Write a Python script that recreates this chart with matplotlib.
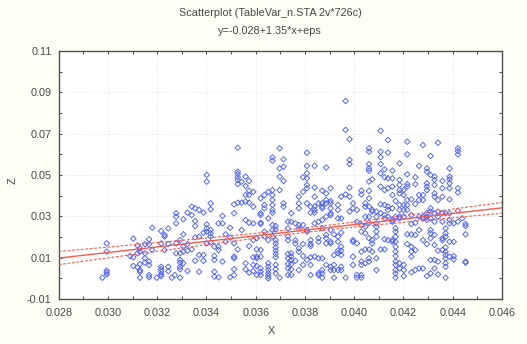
import numpy as np
import matplotlib
matplotlib.use("Agg")
import matplotlib.pyplot as plt

plt.rcParams['font.family'] = ['Liberation Sans', 'DejaVu Sans']

# points, grouped by x column
col_x = [
    0.02977, 0.02995, 0.0309, 0.03103, 0.0312, 0.0313, 0.0315, 0.03167, 0.0318, 0.03198,
    0.03216, 0.0323, 0.03245, 0.03259, 0.03272, 0.03277, 0.03293, 0.03306, 0.03323, 0.0334,
    0.03354, 0.0337, 0.03388, 0.03401, 0.03417, 0.03432, 0.03449, 0.03465, 0.03478, 0.03496,
    0.03512, 0.03527, 0.03543, 0.03559, 0.03573, 0.0359, 0.03604, 0.0362, 0.03635, 0.03651,
    0.03668, 0.03681, 0.03697, 0.03713, 0.03731, 0.03744, 0.03761, 0.03775, 0.03792, 0.03808,
    0.03823, 0.03839, 0.03855, 0.0387, 0.03886, 0.03904, 0.03918, 0.03934, 0.03947, 0.03965,
    0.03981, 0.03995, 0.04011, 0.04029, 0.04045, 0.0406, 0.04073, 0.0409, 0.04107, 0.04123,
    0.04137, 0.04155, 0.04168, 0.04184, 0.04201, 0.04215, 0.04232, 0.04248, 0.04263, 0.04279,
    0.04295, 0.0431, 0.04326, 0.0434, 0.04358, 0.04371, 0.04387, 0.04404, 0.04421, 0.04438,
    0.04452,
]
col_z = [
    [.0003], [.0169, .0129, .0037, .0029, .0019], [.0108], [.0192, .0102, .0060],
    [.0158, .0121, .0053], [.0145, .0129, .0069, .004, .0032, .0003], [.0165, .0121, .0097, .0076],
    [.0189, .0166, .0081, .0065, .0016, .0005], [.0245, .0137], [.0003],
    [.0229, .0169, .0056, .0044, .0032, .0019, .0011], [.0210, .0202, .0137],
    [.0242, .0166, .0056, .0035], [.0003], [.0016], [.0315, .0298, .0266, .0169, .0121],
    [.0185, .0121, .0089, .0076, .0056, .0044, .0003], [.0286, .0213, .0153, .0129, .0073],
    [.0318, .0166, .0134, .0035], [.0347, .0306, .0140], [.0339, .0277, .0253, .0198, .0085],
    [.0331, .0202, .0113, .0032], [.0318, .0221, .0113, .0085],
    [.0500, .0468, .0261, .0242, .0226, .0169], [.0363, .0334, .0234, .0218, .0202, .0173],
    [.0153, .0108, .0089, .0032, .0008], [.0266, .0153, .0137, .0005], [.0302, .0266, .0081],
    [.0213, .0177], [.0245, .0197, .0005], [.0358, .0315, .0169, .0105, .0097, .0044, .0016],
    [.0632, .0516, .0505, .0489, .0476, .0456, .0366, .0140], [.0468, .0366, .0234],
    [.0492, .0447, .0403, .0371, .0282, .0073, .0044],
    [.0471, .0424, .0403, .0366, .0269, .0156, .0027],
    [.0419, .0347, .0266, .0185, .0102, .0065, .0035], [.0194, .0140, .0105, .0097, .0060, .0016],
    [.0387, .0315, .0306, .0269, .0263, .0137, .0105, .0048, .0032, .0016],
    [.0403, .0355, .0339, .0226, .0202],
    [.0419, .0290, .0185, .0073, .0056, .0040, .0024, .0011, .0000],
    [.0585, .0569, .0427, .0403, .0379, .0355, .0331, .0318, .0258, .0234, .0202],
    [.0253, .0237, .0185, .0169, .0150, .0134, .0118, .0102, .0065, .0044, .0024],
    [.0629, .0532, .0492, .0427, .0003], [.0576, .0540, .0471, .0363, .0347],
    [.0274, .0242, .0202, .0185, .0118, .0097, .0069, .0048, .0016],
    [.0315, .0274, .0121, .0105, .0089, .0069, .0044, .0016], [.0266, .0185, .0169, .0085],
    [.0395, .0363, .0339, .0258, .0242, .0145, .0129, .0040],
    [.0489, .0419, .0258, .0166, .0108, .0065],
    [.0608, .0544, .0508, .0484, .0452, .0436, .0363, .0234, .0226, .0089],
    [.0347, .0318, .0185, .0166, .0156, .0102, .0065, .0016],
    [.0544, .0439, .0395, .0347, .0331, .0318, .0266, .0105],
    [.0363, .0274, .0194, .0177, .0097, .0024, .0016],
    [.0424, .0363, .0347, .0339, .0282, .0242, .0097, .0040, .0024, .0003],
    [.0536, .0411, .0379, .0363, .0298, .0210, .0194, .0169, .0065],
    [.0436, .0374, .0363, .0339, .0315, .0306, .0234, .0177, .0169, .0056, .0040],
    [.0213, .0113, .0065, .0040, .0003],
    [.0355, .0331, .0290, .0202, .0177, .0134, .0121, .0040],
    [.0395, .0290, .0221, .0153, .0134, .0113, .0040, .0056], [.0858, .0718, .0406, .0003],
    [.0673, .0573, .0553, .0439, .0395, .0323], [.0363, .0339, .0185, .0177, .0105, .0065],
    [.0331, .0274, .0169, .0016, .0003],
    [.0424, .0406, .0258, .0226, .0129, .0081, .0065, .0016, .0003],
    [.0363, .0347, .0298, .0250, .0218, .0140, .0073],
    [.0629, .0613, .0553, .0532, .0521, .0468, .0423, .0387, .0347, .0298, .0269, .0194, .0140, .0097, .0081],
    [.0479, .0331, .0323, .0185, .0169, .0129],
    [.0323, .0298, .0266, .0250, .0226, .0202, .0097, .0040],
    [.0714, .0613, .0586, .0553, .0508, .0444, .0358, .0315, .0140],
    [.0527, .0489, .0427, .0355, .0306, .0290, .0189, .0140],
    [.0669, .0608, .0484, .0436, .0347, .0331, .0298, .0185],
    [.0521, .0484, .0444, .0403, .0339, .0282, .0274, .0185, .0177],
    [.0374, .0298, .0242, .0226, .0202, .0177, .0153, .0129, .0108, .0081, .0065, .0040, .0024, .0003],
    [.0556, .0476, .0452, .0427, .0411, .0355, .0331, .0298, .0290, .0073, .0048],
    [.0427, .0403, .0355, .0331, .0298, .0065, .0040, .0011],
    [.0661, .0600, .0503, .0456, .0444, .0379, .0355, .0331, .0213, .0166],
    [.0382, .0306, .0263, .0213, .0153, .0129, .0105, .0029],
    [.0489, .0456, .0360, .0269, .0210, .0137, .0040], [.0544, .0403, .0379, .0298, .0234, .0048],
    [.0645, .0403, .0379, .0298, .0290, .0185, .0048],
    [.0532, .0516, .0460, .0444, .0427, .0315, .0298, .0282, .0166, .0011],
    [.0592, .0500, .0339, .0323, .0290, .0234, .0218, .0194, .0089, .0024],
    [.0492, .0476, .0452, .0411, .0395, .0315, .0274, .0210, .0161, .0089, .0048],
    [.0656, .0379, .0323, .0298, .0134, .0081, .0019],
    [.0471, .0436, .0395, .0315, .0274, .0194, .0185, .0137],
    [.0315, .0242, .0218, .0202, .0150, .0129, .0113, .0097, .0073, .0056, .0003],
    [.0532, .0492, .0479, .0460, .0436, .0382, .0315, .0282, .0266, .0177, .0105],
    [.0266, .0177, .0108, .0092], [.0629, .0616, .0600, .0436, .0415, .0327, .0274], [.0290],
    [.0263, .0253, .0213, .0081, .0076],
]

# fit from the subtitle, confidence band half widths
intercept = -0.028
slope = 1.35
band_x = [.028, .030, .032, .034, .036, .038, .040, .042, .044, .046]
band_half = [.0032, .0026, .0021, .0016, .0012, .0011, .0012, .0016, .0021, .0026]

x_ticks = [.028, .030, .032, .034, .036, .038, .040, .042, .044, .046]
z_ticks = [-.01, .01, .03, .05, .07, .09, .11]

x_vals = np.repeat(col_x, [len(c) for c in col_z])
z_vals = np.concatenate(col_z)
band_x = np.array(band_x)
band_half = np.array(band_half)
fit = intercept + slope * band_x

W, H = 527, 344
bg = "#FEFEF6"
ink = "#484848"
red = "#F55A48"

fig = plt.figure(figsize=(W / 100, H / 100), dpi=100, facecolor=bg)
ax = fig.add_axes([58.7 / W, 1 - 299 / H, (502 - 58.7) / W, (299 - 51) / H])

ax.scatter(x_vals, z_vals, marker="D", s=8, facecolors="none", edgecolors="#4C60F8", linewidths=0.65, zorder=3)
ax.plot(band_x, fit, color=red, lw=1.0, zorder=4)
ax.plot(band_x, fit + band_half, color=red, lw=0.8, ls=(0, (2.5, 1.5)), zorder=4)
ax.plot(band_x, fit - band_half, color=red, lw=0.8, ls=(0, (2.5, 1.5)), zorder=4)

ax.set_xlim(.028, .046)
ax.set_ylim(-.01, .11)
ax.set_xticks(x_ticks)
ax.set_xticklabels([f"{t:.3f}" for t in x_ticks])
ax.set_yticks(z_ticks)
ax.set_yticklabels([f"{t:.2f}" for t in z_ticks])
ax.set_xticks(np.arange(.029, .046, .002), minor=True)
ax.set_yticks(np.arange(0, .11, .02), minor=True)
ax.tick_params(which="both", direction="in", top=True, right=True, length=2, width=0.7, color=ink)
ax.tick_params(axis="x", which="major", labelsize=7.8, labelcolor=ink, pad=6.5)
ax.tick_params(axis="y", which="major", labelsize=7.8, labelcolor=ink, pad=5)
ax.grid(True, which="major", color="#DADADA", lw=0.6, ls=(0, (1, 2)))
ax.set_axisbelow(True)
for s in ax.spines.values():
    s.set_color("#505050")
    s.set_linewidth(1.0)

fig.text(270 / W, 1 - 13.5 / H, "Scatterplot (TableVar_n.STA 2v*726c)", ha="center", va="center", fontsize=7.8, color=ink)
fig.text(270 / W, 1 - 31.5 / H, "y=-0.028+1.35*x+eps", ha="center", va="center", fontsize=7.8, color=ink)
fig.text(271 / W, 1 - 331 / H, "X", ha="center", va="center", fontsize=7.8, color=ink)
fig.text(13 / W, 1 - 181 / H, "Z", ha="center", va="center", rotation=90, fontsize=7.8, color=ink)

fig.savefig("out.png", dpi=100, facecolor=bg)
